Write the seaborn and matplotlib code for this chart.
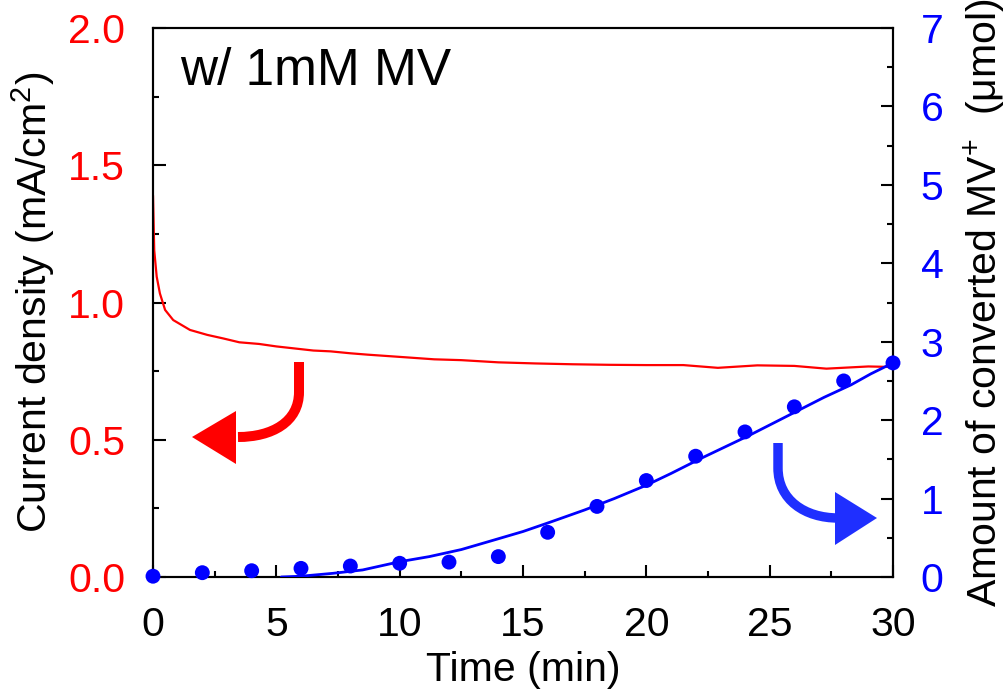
import numpy as np
import pandas as pd
import seaborn as sns
import matplotlib
matplotlib.use("Agg")
import matplotlib.pyplot as plt
from matplotlib.path import Path
from matplotlib.patches import PathPatch, Polygon
from matplotlib.ticker import MultipleLocator

# ---- data ----
t_current = [0, 0.05, 0.15, 0.28, 0.49, 0.82, 1.5, 2.2, 2.85, 3.5, 4.3, 5.0, 5.8,
             6.5, 7.2, 8.0, 8.7, 9.5, 10.3, 11.4, 12.5, 14, 15.5, 17, 18.5, 20,
             21.5, 22.9, 24.5, 26, 27.3, 29, 30]
current = [1.39, 1.19, 1.094, 1.033, 0.973, 0.936, 0.90, 0.882, 0.869, 0.855, 0.849,
           0.84, 0.832, 0.825, 0.822, 0.815, 0.81, 0.805, 0.80, 0.793, 0.79, 0.782,
           0.778, 0.775, 0.773, 0.772, 0.772, 0.762, 0.771, 0.769, 0.759, 0.767, 0.765]

t_points = [0, 2, 4, 6, 8, 10, 12, 14, 16, 18, 20, 22, 24, 26, 28, 30]
amount = [0.01, 0.055, 0.08, 0.11, 0.14, 0.175, 0.19, 0.26, 0.57, 0.90, 1.23,
          1.54, 1.85, 2.17, 2.50, 2.73]

t_fit = [5.2, 6.0, 7.3, 8.5, 10, 11.2, 12.5, 13.7, 15, 16.2, 17.5, 18.7, 20, 21,
         22.2, 23.2, 24.2, 25.2, 26.2, 27.2, 28.3, 29.1, 30]
amount_fit = [0, 0.01, 0.047, 0.09, 0.195, 0.26, 0.35, 0.46, 0.58, 0.71, 0.855, 1.0,
              1.17, 1.32, 1.51, 1.66, 1.81, 1.97, 2.13, 2.29, 2.45, 2.59, 2.73]

x_ticks = [0, 5, 10, 15, 20, 25, 30]
left_ticks = [0.0, 0.5, 1.0, 1.5, 2.0]
right_ticks = [0, 1, 2, 3, 4, 5, 6, 7]

df_cur = pd.DataFrame({"t": t_current, "j": current})
df_pts = pd.DataFrame({"t": t_points, "n": amount})
df_fit = pd.DataFrame({"t": t_fit, "n": amount_fit})

sns.set_style("ticks")
plt.rcParams["font.family"] = ["Liberation Sans", "DejaVu Sans"]
plt.rcParams["mathtext.fontset"] = "custom"
plt.rcParams["mathtext.rm"] = "Liberation Sans"
plt.rcParams["text.color"] = "black"
plt.rcParams["axes.labelcolor"] = "black"
plt.rcParams["xtick.color"] = "black"
plt.rcParams["ytick.color"] = "black"
plt.rcParams["axes.edgecolor"] = "black"

W, H = 1008, 698
fig = plt.figure(figsize=(W / 100, H / 100), dpi=100)
ax = fig.add_axes([153 / W, 1 - 577 / H, (893 - 153) / W, (577 - 28) / H])
ax2 = ax.twinx()

RED = "#ff0000"
BLUE = "#0000ff"
ARROW_BLUE = "#1f2fff"

sns.lineplot(data=df_cur, x="t", y="j", ax=ax, color=RED, lw=1.6, zorder=3)
sns.lineplot(data=df_fit, x="t", y="n", ax=ax2, color=BLUE, lw=2.0, zorder=3)
sns.scatterplot(data=df_pts, x="t", y="n", ax=ax2, color=BLUE, s=115,
                edgecolor="none", zorder=4, clip_on=False)

ax.set_xlim(0, 30)
ax.set_ylim(0, 2.0)
ax2.set_ylim(0, 7)
ax.set_xticks(x_ticks)
ax.set_yticks(left_ticks)
ax.set_yticklabels([f"{v:.1f}" for v in left_ticks])
ax2.set_yticks(right_ticks)
ax.xaxis.set_minor_locator(MultipleLocator(2.5))
ax.yaxis.set_minor_locator(MultipleLocator(0.25))
ax2.yaxis.set_minor_locator(MultipleLocator(0.5))

fs = 29.5
ax.tick_params(axis="x", which="major", direction="in", length=9, width=1.5,
               labelsize=fs, pad=21, top=False, labelcolor="black")
ax.tick_params(axis="x", which="minor", direction="in", length=4.5, width=1.5, top=False)
ax.tick_params(axis="y", which="major", direction="in", length=9, width=1.5,
               labelsize=fs, pad=20, labelcolor=RED)
ax.tick_params(axis="y", which="minor", direction="in", length=4.5, width=1.5)
ax2.tick_params(axis="y", which="major", direction="in", length=9, width=1.5,
                labelsize=fs, pad=20, labelcolor=BLUE)
ax2.tick_params(axis="y", which="minor", direction="in", length=4.5, width=1.5)

for a in (ax, ax2):
    for s in a.spines.values():
        s.set_linewidth(1.5)
        s.set_color("black")
        s.set_visible(True)

ax.set_xlabel("Time (min)", fontsize=fs, labelpad=5, color="black")
ax.set_ylabel("Current density (mA/cm$^{2}$)", fontsize=fs, labelpad=8, color="black")
ax2.set_ylabel("Amount of converted MV$^{+}$  (\u03bcmol)", fontsize=fs,
               labelpad=13, color="black")

ax.text(0.0365, 0.896, "w/ 1mM MV", transform=ax.transAxes, fontsize=37,
        ha="left", va="baseline", color="black")


def px(x, y):
    return (x / W, 1 - y / H)


def curved_arrow(p0, p1, c1, c2, p2, head, color, width):
    verts = [px(*p0), px(*p1), px(*c1), px(*c2), px(*p2)]
    codes = [Path.MOVETO, Path.LINETO, Path.CURVE4, Path.CURVE4, Path.CURVE4]
    fig.add_artist(PathPatch(Path(verts, codes), facecolor="none", edgecolor=color,
                             lw=width, capstyle="butt", transform=fig.transFigure))
    fig.add_artist(Polygon([px(*h) for h in head], closed=True, facecolor=color,
                           edgecolor="none", transform=fig.transFigure))


curved_arrow((299, 362), (299, 392), (299, 422), (272, 437), (238, 437),
             [(192, 437), (236, 411), (236, 464)], RED, 7.2)
curved_arrow((778, 443), (778, 468), (778, 500), (805, 518), (838, 518),
             [(877, 518), (835, 492), (835, 545)], ARROW_BLUE, 6.8)

fig.savefig("out.png", dpi=100)
